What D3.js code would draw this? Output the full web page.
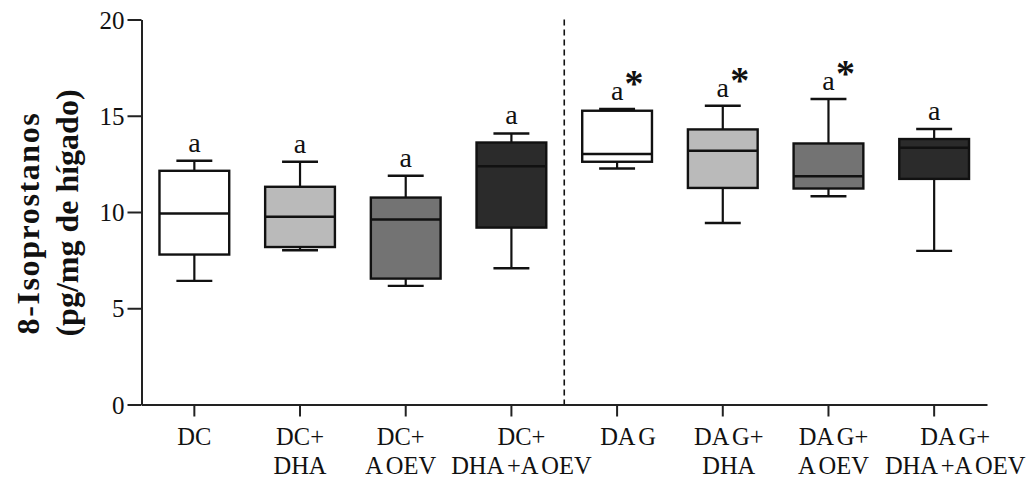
<!DOCTYPE html>
<html>
<head>
<meta charset="utf-8">
<script src="https://cdn.jsdelivr.net/npm/d3@7"></script>
<style>
  html, body { margin: 0; padding: 0; background: #fff; }
  svg { display: block; }
  text { font-family: "Liberation Serif", "Times New Roman", serif; fill: #111; }
</style>
</head>
<body>
<svg id="chart" width="1032" height="482"></svg>
<script>
// Groups (two-line tick labels)
const labelLine1 = ["DC", "DC+", "DC+", "DC+", "DA G", "DA G+", "DA G+", "DA G+"];
const labelLine2 = ["", "DHA", "A OEV", "DHA +A OEV", "", "DHA", "A OEV", "DHA +A OEV"];

// Box-plot statistics per group (pg/mg de hígado)
const mins    = [6.42, 8.01, 6.16, 7.08, 12.26, 9.43, 10.82, 7.98];
const q1s     = [7.79, 8.18, 6.54, 9.19, 12.61, 11.25, 11.22, 11.72];
const medians = [9.92, 9.75, 9.61, 12.38, 13.01, 13.18, 11.86, 13.34];
const q3s     = [12.14, 11.31, 10.75, 13.61, 15.26, 14.29, 13.56, 13.79];
const maxs    = [12.66, 12.61, 11.88, 14.08, 15.35, 15.52, 15.87, 14.31];

// Significance annotations
const letters = ["a", "a", "a", "a", "a", "a", "a", "a"];
const stars   = [false, false, false, false, true, true, true, false];

// Fill per group
const fills = ["#ffffff", "#bababa", "#737373", "#2b2b2b", "#ffffff", "#bababa", "#737373", "#2b2b2b"];

const yTicks = [0, 5, 10, 15, 20];

const svg = d3.select("#chart");
const plotLeft = 141.5, plotRight = 987, plotTop = 19.5, plotBottom = 404.5;

const ids = labelLine1.map((d, i) => i);
const x = d3.scaleBand().domain(ids).range([plotLeft, plotRight]).padding(0);
const y = d3.scaleLinear().domain([0, 20]).range([plotBottom, plotTop]);
const bw = x.bandwidth();
const boxW = bw * 0.66;
const capW = bw * 0.34;
const cx = i => x(i) + bw / 2;

const data = ids.map(i => ({
  i, min: mins[i], q1: q1s[i], med: medians[i], q3: q3s[i], max: maxs[i],
  fill: fills[i], letter: letters[i], star: stars[i]
}));

// Y axis
const yAxis = d3.axisLeft(y).tickValues(yTicks).tickSize(14).tickSizeOuter(0).tickPadding(3);
const gy = svg.append("g").attr("transform", `translate(${plotLeft},0)`).call(yAxis);
gy.select(".domain").attr("stroke", "#222").attr("stroke-width", 2);
gy.selectAll(".tick line").attr("stroke", "#222").attr("stroke-width", 2);
gy.selectAll(".tick text")
  .attr("font-family", "Liberation Serif, serif")
  .attr("font-size", 25)
  .attr("fill", "#111")
  .attr("dy", "0.34em");

// X axis
const xAxis = d3.axisBottom(x).tickSize(12).tickSizeOuter(0).tickFormat(() => "");
const gx = svg.append("g").attr("transform", `translate(0,${plotBottom})`).call(xAxis);
gx.select(".domain").attr("stroke", "#222").attr("stroke-width", 2);
gx.selectAll(".tick line").attr("stroke", "#222").attr("stroke-width", 2);
gx.selectAll(".tick text").remove();

// Category labels, each nudged slightly off its tick as typeset
const labelNudge = [0, 0, -5, 10, 11, 6, 5, 21];
const xl = svg.append("g");
ids.forEach(i => {
  const lx = cx(i) + labelNudge[i];
  const t = xl.append("text")
    .attr("x", lx)
    .attr("y", 445)
    .attr("text-anchor", "middle")
    .attr("font-size", 24.5)
    .attr("word-spacing", -2);
  t.append("tspan").attr("x", lx).attr("dy", 0).text(labelLine1[i]);
  if (labelLine2[i]) t.append("tspan").attr("x", lx).attr("dy", 29).text(labelLine2[i]);
});

// Dashed separator between the two diet blocks
svg.append("line")
  .attr("x1", x(4)).attr("x2", x(4))
  .attr("y1", y(20)).attr("y2", plotBottom)
  .attr("stroke", "#111").attr("stroke-width", 1.6)
  .attr("stroke-dasharray", "6,4");

// Boxes
const g = svg.append("g").selectAll("g").data(data).join("g");

g.append("line") // upper whisker
  .attr("x1", d => cx(d.i)).attr("x2", d => cx(d.i))
  .attr("y1", d => y(d.q3)).attr("y2", d => y(d.max))
  .attr("stroke", "#111").attr("stroke-width", 2.2);
g.append("line") // lower whisker
  .attr("x1", d => cx(d.i)).attr("x2", d => cx(d.i))
  .attr("y1", d => y(d.q1)).attr("y2", d => y(d.min))
  .attr("stroke", "#111").attr("stroke-width", 2.2);
g.append("rect")
  .attr("x", d => cx(d.i) - boxW / 2)
  .attr("width", boxW)
  .attr("y", d => y(d.q3))
  .attr("height", d => y(d.q1) - y(d.q3))
  .attr("fill", d => d.fill)
  .attr("stroke", "#111").attr("stroke-width", 2.4);
g.append("line") // median
  .attr("x1", d => cx(d.i) - boxW / 2).attr("x2", d => cx(d.i) + boxW / 2)
  .attr("y1", d => y(d.med)).attr("y2", d => y(d.med))
  .attr("stroke", "#111").attr("stroke-width", 2.4);
g.append("line") // max cap
  .attr("x1", d => cx(d.i) - capW / 2).attr("x2", d => cx(d.i) + capW / 2)
  .attr("y1", d => y(d.max)).attr("y2", d => y(d.max))
  .attr("stroke", "#111").attr("stroke-width", 2.4);
g.append("line") // min cap
  .attr("x1", d => cx(d.i) - capW / 2).attr("x2", d => cx(d.i) + capW / 2)
  .attr("y1", d => y(d.min)).attr("y2", d => y(d.min))
  .attr("stroke", "#111").attr("stroke-width", 2.4);

// Letters and asterisks
g.append("text")
  .attr("x", d => cx(d.i))
  .attr("y", d => y(d.max) - 9)
  .attr("text-anchor", "middle")
  .attr("font-size", 28)
  .text(d => d.letter);
g.filter(d => d.star).append("text")
  .attr("x", d => cx(d.i) + 17)
  .attr("y", d => y(d.max) - 13)
  .attr("text-anchor", "middle")
  .attr("font-size", 38)
  .attr("font-weight", "bold")
  .text("*");

// Y axis title (two rotated lines)
const titleLines = ["8-Isoprostanos", "(pg/mg de hígado)"];
const titleX = [39, 78];
const titleY = [223, 213];
const titleSpacing = [1.6, 0];
titleLines.forEach((s, k) => {
  svg.append("text")
    .attr("transform", `translate(${titleX[k]},${titleY[k]}) rotate(-90)`)
    .attr("text-anchor", "middle")
    .attr("font-size", 32)
    .attr("font-weight", "bold")
    .attr("letter-spacing", titleSpacing[k])
    .text(s);
});
</script>
</body>
</html>
